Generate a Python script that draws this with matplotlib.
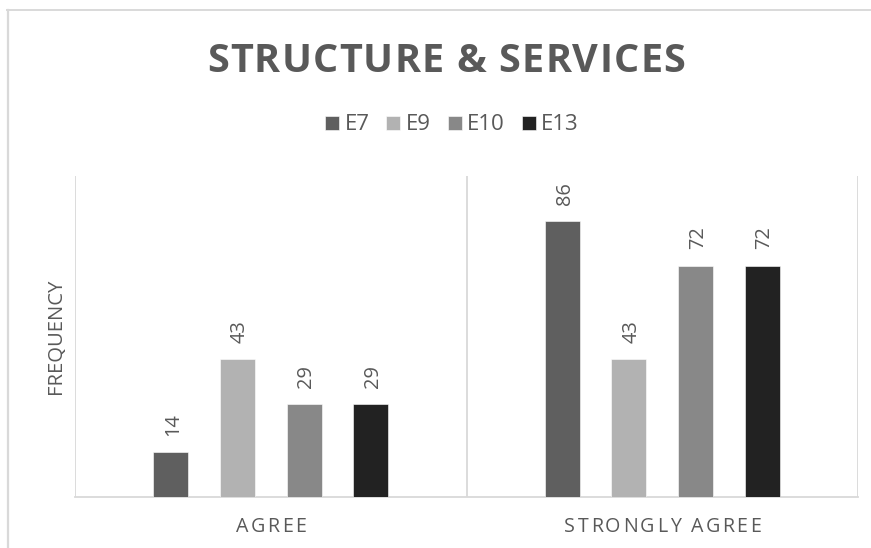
import matplotlib
matplotlib.use("Agg")
import matplotlib.pyplot as plt
import numpy as np
from matplotlib.lines import Line2D

# Data
categories = ["AGREE", "STRONGLY AGREE"]
series_names = ["E7", "E9", "E10", "E13"]
values = {
    "E7": [14, 86],
    "E9": [43, 43],
    "E10": [29, 72],
    "E13": [29, 72],
}
colors = ["#5f5f5f", "#b2b2b2", "#888888", "#222222"]
title_text = "STRUCTURE & SERVICES"
y_label = "FREQUENCY"

W, H = 871, 548
DPI = 100
TEXT = "#595959"
GRID = "#d9d9d9"
FONT = "Open Sans"

fig = plt.figure(figsize=(W / DPI, H / DPI), dpi=DPI)
fig.patch.set_facecolor("white")


def fx(px):
    return px / W


def fy(py):
    return 1 - py / H


# plot area in pixel coordinates
left_px, right_px, top_px, bottom_px = 75, 858, 176, 497
ax = fig.add_axes([fx(left_px), fy(bottom_px), fx(right_px - left_px), (bottom_px - top_px) / H])

x = np.arange(len(categories))
bar_w = 0.0894
step = 0.1703
offsets = (np.arange(len(series_names)) - 1.5) * step

for i, name in enumerate(series_names):
    bars = ax.bar(x + offsets[i], values[name], width=bar_w, color=colors[i],
                  edgecolor="#ffffff", linewidth=0.4, label=name, zorder=3)
    for rect, v in zip(bars, values[name]):
        ax.annotate(str(v), xy=(rect.get_x() + rect.get_width() / 2, v),
                    xytext=(5.3, 11.8), textcoords="offset points",
                    rotation=90, rotation_mode="anchor", ha="left", va="baseline",
                    fontsize=14.4, color=TEXT, family=FONT)

ax.set_xlim(-0.5, len(categories) - 0.5)
ax.set_ylim(0, 100)
for s in ["top", "right", "left"]:
    ax.spines[s].set_visible(False)
ax.spines["bottom"].set_color(GRID)
ax.spines["bottom"].set_linewidth(1.3)
ax.set_yticks([])
ax.set_xticks([])
for b in np.arange(-0.5, len(categories), 1.0):
    ax.axvline(b, color=GRID, linewidth=1.3, zorder=1)


def tracked_text(cx, cy, s, track, **kw):
    """Draw centered text (figure pixel coords) with extra letter spacing."""
    renderer = fig.canvas.get_renderer()

    def width(t):
        tmp = fig.text(0, 0, t + "|", **kw)
        w = tmp.get_window_extent(renderer).width
        tmp.remove()
        return w

    bar_w_ = width("")
    prefix = [width(s[:i]) - bar_w_ for i in range(len(s) + 1)]
    total = prefix[-1] + track * (len(s) - 1)
    x0 = cx - total / 2
    for i, ch in enumerate(s):
        if ch == " ":
            continue
        fig.text(fx(x0 + prefix[i] + track * i), fy(cy), ch,
                 ha="left", va="center_baseline", **kw)


# Title
tracked_text(446, 57.5, title_text, 1.2, fontsize=28.5, fontweight="bold",
             color=TEXT, family=FONT)

# Category labels
cat_centers = [271, 662.5]
for c, lab in zip(cat_centers, categories):
    tracked_text(c, 525, lab, 2.4, fontsize=14.1, color=TEXT, family=FONT)

# Axis title
fig.text(fx(56), fy(336.5), y_label, rotation=90, ha="center", va="center",
         fontsize=14.6, color=TEXT, family=FONT)

# Legend
leg = fig.legend(loc="center", bbox_to_anchor=(fx(452), fy(125)), ncol=4,
                 frameon=False, fontsize=16, handlelength=0.63, handleheight=0.6,
                 handletextpad=0.25, columnspacing=0.75, borderaxespad=0)
for t in leg.get_texts():
    t.set_color(TEXT)
    t.set_family(FONT)

# Outer chart border (top and left edges visible)
fig.add_artist(Line2D([fx(7), fx(W)], [fy(10), fy(10)], color=GRID, linewidth=1.4))
fig.add_artist(Line2D([fx(7.5), fx(7.5)], [fy(10), fy(H)], color=GRID, linewidth=1.6))

fig.savefig("out.png", dpi=DPI, facecolor="white")
